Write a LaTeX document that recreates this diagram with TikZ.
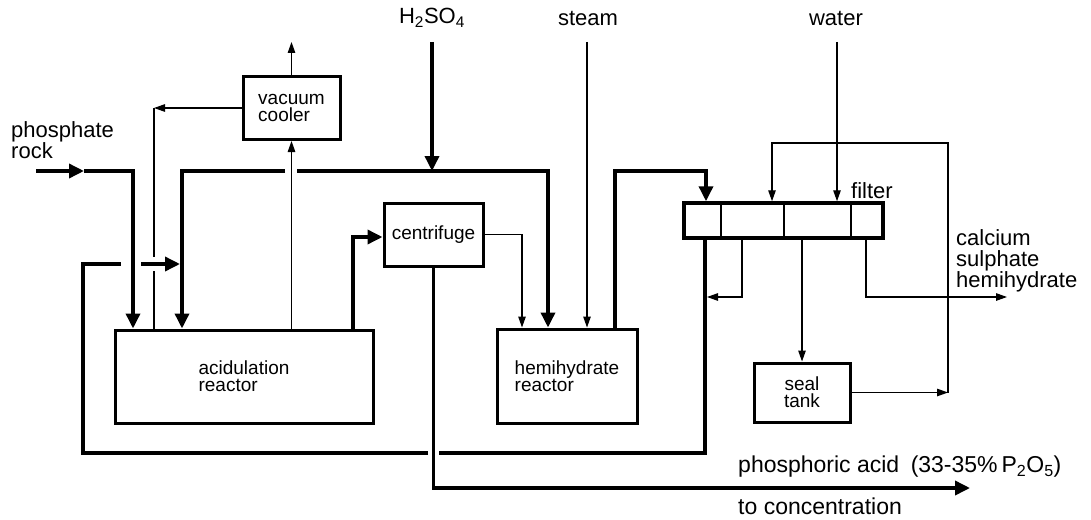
\documentclass[tikz,border=0pt]{standalone}
\usepackage{fontspec}
\setmainfont{Liberation Sans}
\usetikzlibrary{arrows.meta}

\begin{document}
\begin{tikzpicture}[x=1pt,y=-1pt,
  vessel/.style={draw,line width=3pt,inner sep=0pt,align=left,font=\fontsize{19}{17}\selectfont},
  heavy/.style={line width=3.5pt},
  slim/.style={line width=1.2pt},
  bigtip/.style={-{Triangle[length=15pt,width=14pt]}},
  smalltip/.style={-{Triangle[length=11pt,width=7.5pt]}},
  lbl/.style={font=\fontsize{22}{20.5}\selectfont,align=left,inner sep=0pt}]
\useasboundingbox (0,0) rectangle (1091,519);

% stream labels
\node[lbl,anchor=west] (rock) at (11,140) {phosphate\\rock};
\node[lbl] (acidlbl) at (432,18) {H\textsubscript{2}SO\textsubscript{4}};
\node[lbl] (steam) at (588,18) {steam};
\node[lbl] (water) at (836,18) {water};
\node[lbl,anchor=west] (filterlbl) at (851,191) {filter};
\node[lbl,anchor=west] (gyp) at (956,261) {calcium\\sulphate\\hemihydrate};
\node[lbl,anchor=west,font=\fontsize{23}{23}\selectfont] (prodlbl) at (738,467) {phosphoric acid\enspace(33-35\%\,P\textsubscript{2}O\textsubscript{5})};
\node[lbl,anchor=west,font=\fontsize{23}{23}\selectfont] (conclbl) at (738,506) {to concentration};

% plant units
\node[vessel,minimum width=97pt,minimum height=63pt] (cooler) at (291.5,108) {vacuum\\cooler};
\node[vessel,minimum width=258pt,minimum height=93pt] (acid) at (244,376.5) {acidulation\\reactor};
\node[vessel,minimum width=99pt,minimum height=63pt] (cfg) at (433.5,234.5) {centrifuge};
\node[vessel,minimum width=140pt,minimum height=94pt] (hemi) at (567,376) {hemihydrate\\reactor};
\node[vessel,line width=3.5pt,minimum width=199pt,minimum height=35pt] (filter) at (783.5,220.5) {};
\node[vessel,align=center,minimum width=96pt,minimum height=59pt] (seal) at (802,392.5) {seal\\tank};
\foreach \dx in {721,784,851} \draw[slim] (\dx,0 |- filter.north) -- (\dx,0 |- filter.south);

% free ends
\coordinate (rockin) at (36,171);
\coordinate (acidfeed) at (432,42);
\coordinate (steamfeed) at (587,42);
\coordinate (waterfeed) at (837,42);
\coordinate (vent) at (291.5,42);
\coordinate (product) at (970,488);
\coordinate (gypout) at (1007,297);

% phosphate rock and acid feed
\draw[heavy,bigtip] (rockin) -- (84,171);
\draw[heavy,bigtip] (84,171) -- (133,171) -- (133,0 |- acid.north);
\draw[heavy,bigtip] (acidfeed) -- (432,171);
\draw[heavy,bigtip] (285,171) -- (182,171) -- (182,0 |- acid.north);
\draw[heavy,bigtip] (297,171) -- (548,171) -- (548,0 |- hemi.north);

% vacuum cooler loop
\draw[slim,smalltip] (cooler.south |- acid.north) -- (cooler.south);
\draw[slim,smalltip] (cooler.north) -- (vent);
\draw[slim,smalltip] (cooler.west) -- (154,108);
\draw[slim] (154,108) -- (154,257) (154,271) -- (154,0 |- acid.north);

% centrifuge
\draw[heavy,bigtip] (353,0 |- acid.north) -- (353,237) -- (cfg.west |- 0,237);
\draw[slim,smalltip] (cfg.east) -- (522,234.5) -- (522,0 |- hemi.north);
\draw[heavy,bigtip] (cfg.south) -- (433.5,488) -- (product);
\draw[slim,smalltip] (steamfeed) -- (steamfeed |- hemi.north);

% hemihydrate to filter
\draw[heavy,bigtip] (615,0 |- hemi.north) -- (615,171) -- (706,171) -- (706,0 |- filter.north);
\draw[slim,smalltip] (waterfeed) -- (waterfeed |- filter.north);

% filtrate recycle
\draw[heavy] (705,0 |- filter.south) -- (705,453) -- (439,453) (428,453) -- (83,453) -- (83,264) -- (121,264);
\draw[heavy,bigtip] (141,264) -- (180,264);
\draw[slim,smalltip] (742,0 |- filter.south) -- (742,297) -- (707,297);
\draw[slim,smalltip] (seal.north |- filter.south) -- (seal.north);
\draw[slim,smalltip] (866,0 |- filter.south) -- (866,297) -- (gypout);
\draw[slim,smalltip] (seal.east) -- (948,392.5);
\draw[slim,smalltip] (948,392.5) -- (948,143) -- (772,143) -- (772,0 |- filter.north);
\end{tikzpicture}
\end{document}
